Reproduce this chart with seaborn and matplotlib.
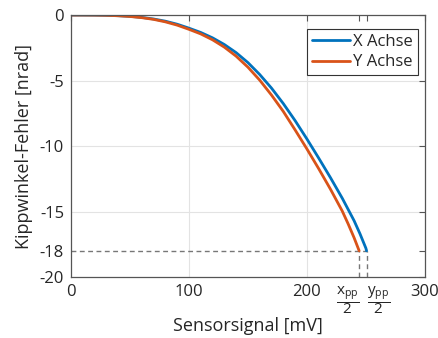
import numpy as np
import pandas as pd
import matplotlib
matplotlib.use('agg')
import matplotlib.pyplot as plt
import seaborn as sns

# values (mV, nrad)
signal_x = [0, 10, 20, 30, 40, 50, 60, 70, 80, 90, 100, 110, 120, 130, 140, 150,
            160, 170, 180, 190, 200, 210, 220, 230, 240, 245, 250, 250.6]
error_x = [0, -0.001, -0.005, -0.02, -0.05, -0.10, -0.18, -0.30, -0.47, -0.70, -1.00,
           -1.33, -1.74, -2.25, -2.87, -3.63, -4.54, -5.58, -6.76, -8.06, -9.46,
           -10.92, -12.42, -13.99, -15.70, -16.70, -17.80, -18.0]

signal_y = [0, 10, 20, 30, 40, 50, 60, 70, 80, 90, 100, 110, 120, 130, 140, 150,
            160, 170, 180, 190, 200, 210, 220, 230, 235, 240, 244.3]
error_y = [0, 0, -0.005, -0.02, -0.055, -0.11, -0.20, -0.33, -0.52, -0.77, -1.09,
           -1.44, -1.89, -2.45, -3.14, -3.98, -4.97, -6.11, -7.36, -8.77, -10.22,
           -11.73, -13.30, -14.97, -15.95, -17.0, -18.0]

series_names = ['X Achse', 'Y Achse']
colors = ['#0072BD', '#D95319']

y_ticks = [0, -5, -10, -15, -18, -20]
y_grid = [-5, -10, -15]
x_grid = [100, 200]
error_limit = -18

sns.set_theme(style='white')
plt.rcParams['font.family'] = ['Open Sans', 'DejaVu Sans']
plt.rcParams['mathtext.fontset'] = 'custom'
plt.rcParams['mathtext.rm'] = 'Open Sans'
plt.rcParams['mathtext.it'] = 'Open Sans'

df = pd.concat([
    pd.DataFrame({'Sensorsignal': signal_x, 'Fehler': error_x, 'Achse': series_names[0]}),
    pd.DataFrame({'Sensorsignal': signal_y, 'Fehler': error_y, 'Achse': series_names[1]}),
])

text_col = '#262626'
fig = plt.figure(figsize=(4.38, 3.38), dpi=100)
ax = fig.add_axes([0.162, 0.1805, 0.808, 0.775])

for gx in x_grid:
    ax.axvline(gx, color='#e3e3e3', lw=0.8, zorder=0)
for gy in y_grid:
    ax.axhline(gy, color='#e3e3e3', lw=0.8, zorder=0)

sns.lineplot(data=df, x='Sensorsignal', y='Fehler', hue='Achse', palette=colors,
             sort=False, estimator=None, linewidth=2, ax=ax)

# dashed guide lines to the end points
end_x = signal_x[-1]
end_y = signal_y[-1]
dash = dict(color='#777777', lw=1.0, ls=(0, (3.5, 2.5)), zorder=1)
ax.plot([0, end_x], [error_limit, error_limit], **dash)
ax.plot([end_y, end_y], [-20, error_limit], **dash)
ax.plot([end_x, end_x], [-20, error_limit], **dash)

ax.set_xlim(0, 300)
ax.set_ylim(-20, 0)
ax.set_xticks([0, 100, 200, end_y, end_x, 300])
ax.set_xticklabels(['0', '100', '200', r'$\dfrac{\mathrm{x}_{\mathrm{pp}}}{2}$',
                    r'$\dfrac{\mathrm{y}_{\mathrm{pp}}}{2}$', '300'])
ax.set_yticks(y_ticks)
ax.set_yticklabels([str(t) for t in y_ticks])

ax.tick_params(direction='in', length=4, width=0.8, colors='#555555',
               labelcolor=text_col, labelsize=12, top=True, right=True, pad=5)
xlabels = ax.get_xticklabels()
xlabels[3].set_ha('right')
xlabels[3].set_fontsize(11)
xlabels[4].set_ha('left')
xlabels[4].set_fontsize(11)
for s in ax.spines.values():
    s.set_color('#555555')
    s.set_linewidth(0.9)

ax.set_xlabel('Sensorsignal [mV]', fontsize=13, color=text_col, labelpad=1)
ax.set_ylabel('Kippwinkel-Fehler [nrad]', fontsize=13, color=text_col, labelpad=5)

leg = ax.legend(loc='upper right', bbox_to_anchor=(0.995, 0.965), fontsize=12,
                frameon=True, fancybox=False, framealpha=1, edgecolor='#333333',
                handlelength=2.3, handletextpad=0.2, borderpad=0.3, labelspacing=0.25,
                borderaxespad=0.3)
leg.get_frame().set_linewidth(0.8)
for t in leg.get_texts():
    t.set_color(text_col)

fig.savefig('out.png', dpi=100)
